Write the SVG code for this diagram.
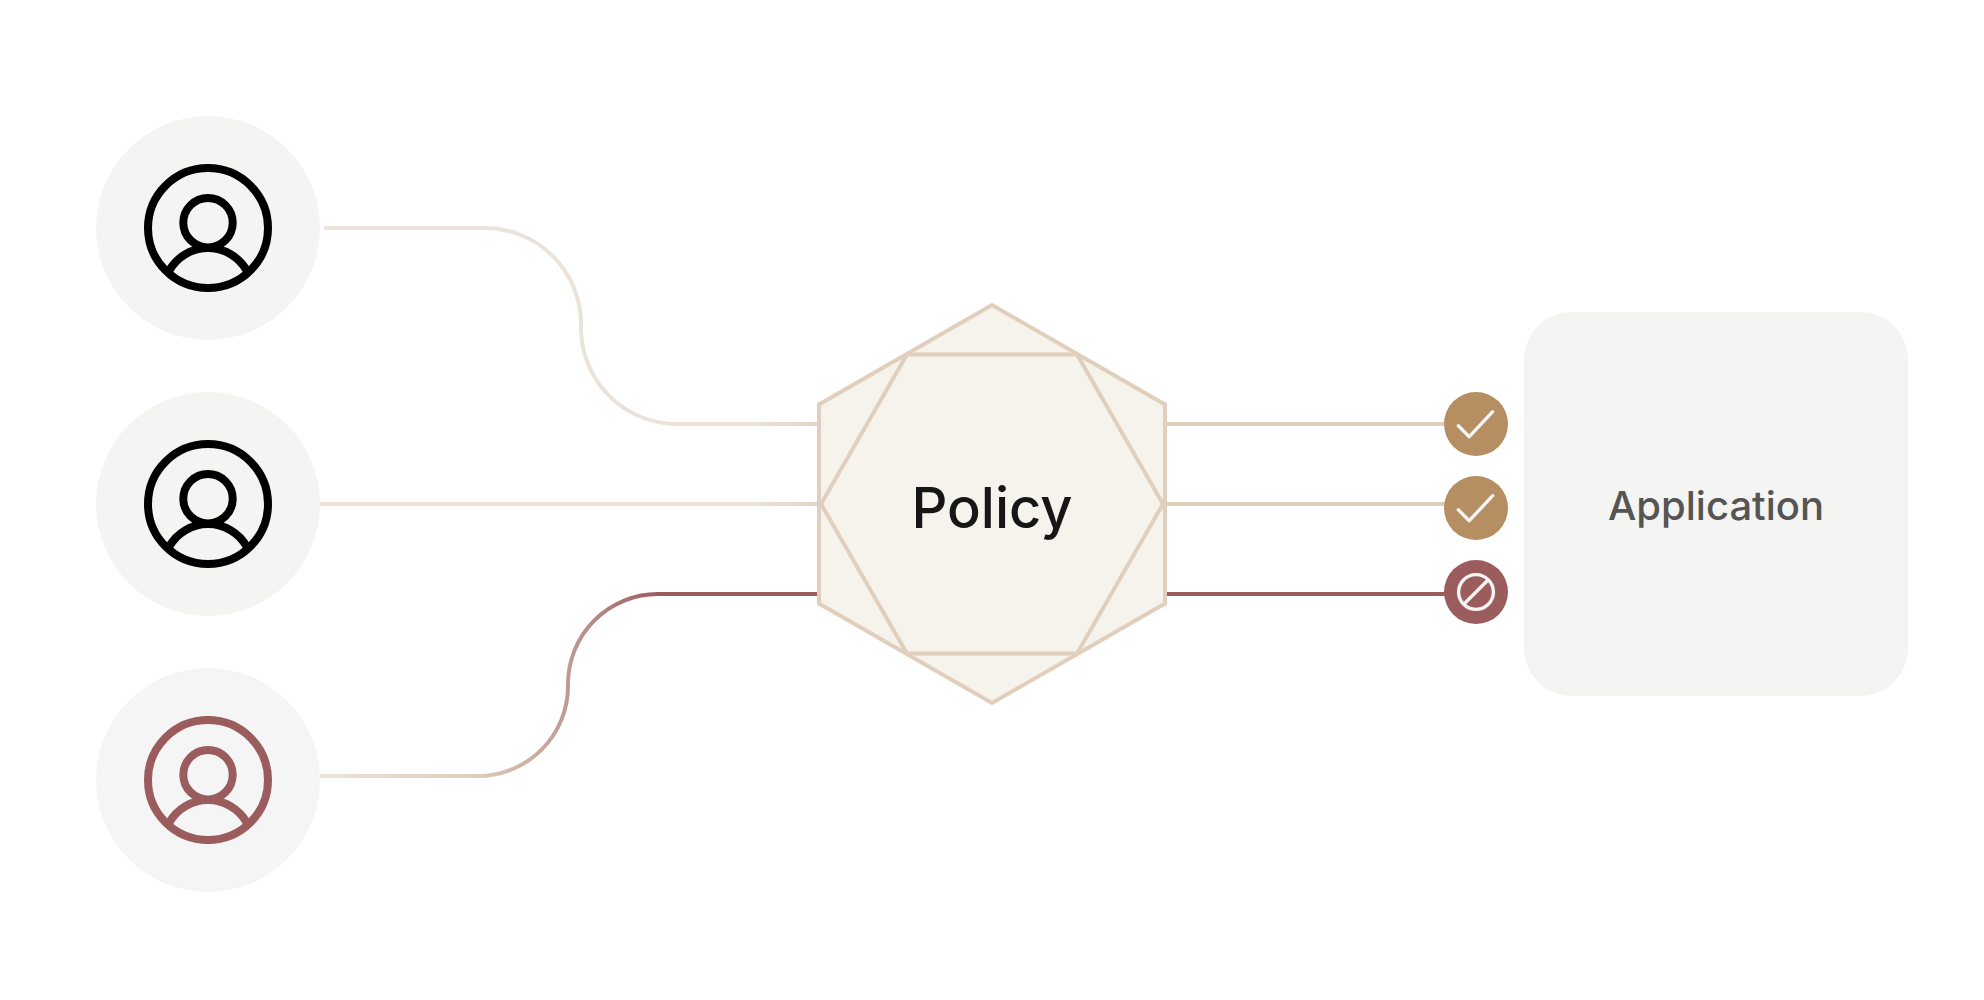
<svg xmlns="http://www.w3.org/2000/svg" width="1984" height="1000" viewBox="0 0 1984 1000">
<style>
.avatar{fill:#f4f4f2}
.ico{fill:none;stroke-width:8}
.blk{stroke:#000}
.red{stroke:#9b5c5e}
.lbl{font-family:"Inter","Liberation Sans",sans-serif}
.hex{fill:#f6f3ed;stroke:#e0cfbd;stroke-width:4;stroke-linejoin:miter}
.conn{fill:none;stroke-width:4}
.mark{fill:none;stroke:#f4f4f2;stroke-width:3.4;stroke-linecap:round;stroke-linejoin:round}
</style>
<defs>
<linearGradient id="pale" gradientUnits="userSpaceOnUse" x1="320" y1="0" x2="820" y2="0">
<stop offset="0.85" stop-color="#ebe3da"/><stop offset="1" stop-color="#e3d6c8"/>
</linearGradient>
<linearGradient id="deny" gradientUnits="userSpaceOnUse" x1="320" y1="0" x2="660" y2="0">
<stop offset="0" stop-color="#ebe3da"/><stop offset="0.45" stop-color="#e0cfbd"/><stop offset="0.73" stop-color="#c09a95"/><stop offset="1" stop-color="#9b5c5e"/>
</linearGradient>
<g id="person">
<circle cx="0" cy="0" r="60"/>
<circle cx="0" cy="-5.3" r="24.7"/>
<path d="M-39,43 A44.6,44.6 0 0 1 39,43"/>
</g>
</defs>
<g id="connectors">
<path class="conn" stroke="url(#pale)" d="M324,228 H485 A96,96 0 0 1 581,324 V328 A96,96 0 0 0 677,424 H820"/>
<path class="conn" stroke="url(#pale)" d="M320,504 H820"/>
<path class="conn" stroke="url(#deny)" d="M320,776 H478 A90,90 0 0 0 568,686 V684 A90,90 0 0 1 658,594 H820"/>
<path class="conn" stroke="#e0cfbd" d="M1165,424 H1446"/>
<path class="conn" stroke="#e0cfbd" d="M1165,504 H1446"/>
<path class="conn" stroke="#9b5c5e" d="M1165,594 H1446"/>
</g>
<g id="user-1">
<circle class="avatar" cx="208" cy="228" r="112"/>
<use href="#person" x="208" y="228" class="ico blk"/>
</g>
<g id="user-2">
<circle class="avatar" cx="208" cy="504" r="112"/>
<use href="#person" x="208" y="504" class="ico blk"/>
</g>
<g id="user-3">
<circle cx="208" cy="780" r="112" fill="#f5f5f5"/>
<use href="#person" x="208" y="780" class="ico red"/>
</g>
<g id="policy">
<polygon class="hex" points="992,305 1165,404.5 1165,603.5 992,703 819,603.5 819,404.5"/>
<polygon class="hex" points="821,504 907,354.5 1077,354.5 1163,504 1077,653.5 907,653.5"/>
<text class="lbl" x="992" y="527.5" font-size="56" font-weight="500" text-anchor="middle" fill="#161616">Policy</text>
</g>
<g id="application">
<rect x="1524" y="312" width="384" height="384" rx="48" fill="#f4f4f2"/>
<text class="lbl" x="1716" y="520" font-size="40" font-weight="500" text-anchor="middle" fill="#555553">Application</text>
</g>
<g id="status-allow-1">
<circle cx="1476" cy="424" r="32" fill="#b58f62"/>
<path class="mark" d="M1458.3,425.7 L1469.3,436.7 L1492.7,411.7"/>
</g>
<g id="status-allow-2">
<circle cx="1476" cy="508" r="32" fill="#b58f62"/>
<path class="mark" d="M1458.3,509.7 L1469.3,520.7 L1492.7,495.7"/>
</g>
<g id="status-deny">
<circle cx="1476" cy="592" r="32" fill="#9b5c5e"/>
<circle class="mark" cx="1476" cy="592" r="17.4"/>
<path class="mark" d="M1464.5,603.5 L1487.5,580.5"/>
</g>
</svg>
